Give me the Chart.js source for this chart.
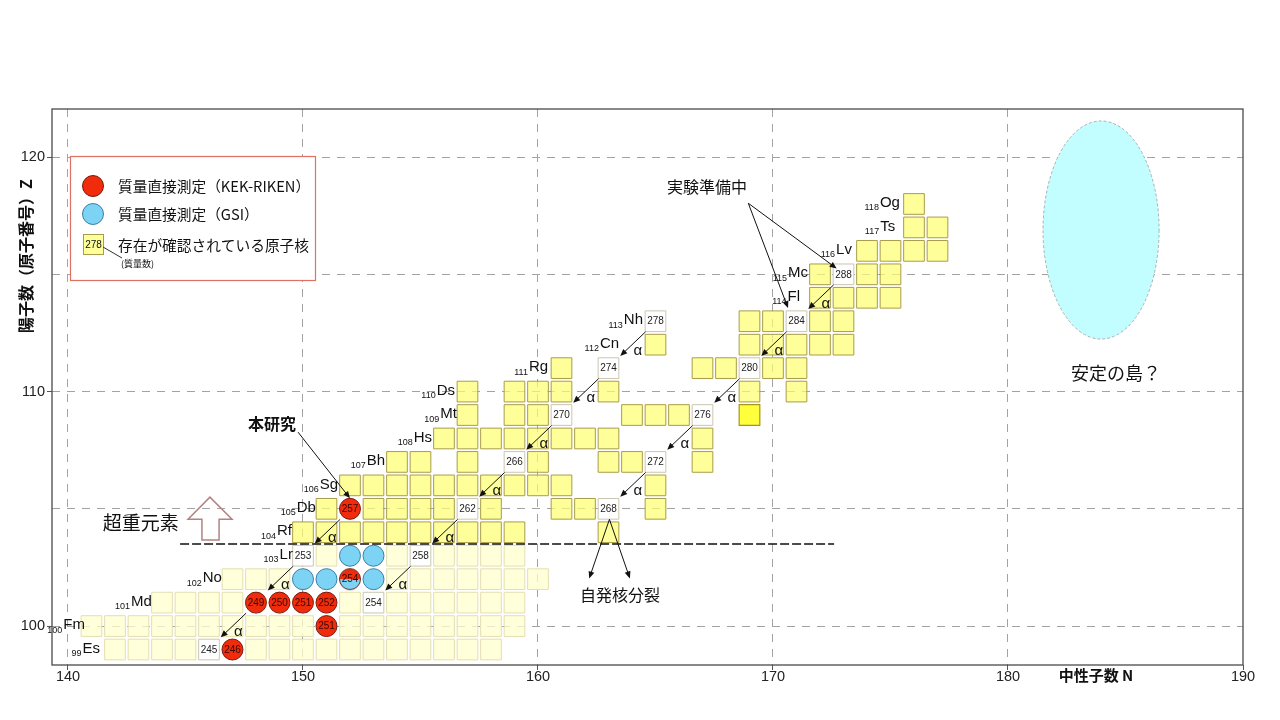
<!DOCTYPE html>
<html><head><meta charset="utf-8">
<script src="https://cdn.jsdelivr.net/npm/chart.js@4/dist/chart.umd.min.js"></script>
<style>html,body{margin:0;padding:0;background:#fff;}canvas{display:block;}</style>
</head><body>
<canvas id="c" width="1280" height="720"></canvas>
<script>
// ---------- axis ticks ----------
const xTicks = [140, 150, 160, 170, 180, 190];
const yTicks = [100, 105, 110, 115, 120];
const yTickLabels = ['100', '', '110', '', '120'];

// ---------- known nuclei: neutron numbers N per proton number Z ----------
// light (Z <= 103)
const esN = [142,143,144,145,148,149,150,151,152,153,154,155,156,157,158];
const fmN = [141,142,143,144,145,146,147,148,149,150,152,153,154,155,156,157,158,159];
const mdN = [144,145,146,147,152,154,155,156,157,158,159];
const noN = [147,148,149,154,155,156,157,158,159,160];
const lrN = [151,154,156,157,158,159];
// superheavy (Z >= 104)
const rfN = [150,151,152,153,154,155,156,157,158,159,163];
const dbN = [151,153,154,155,156,158,161,162,165];
const sgN = [152,153,154,155,156,157,158,159,160,161,165];
const bhN = [154,155,157,160,163,164,167];
const hsN = [156,157,158,159,160,161,162,163,167];
const mtN = [157,159,160,164,165,166];
const dsN = [157,159,160,161,163,169,171];
const rgN = [161,167,168,170,171];
const cnN = [165,169,170,171,172,173];
const nhN = [169,170,172,173];
const flN = [172,173,174,175];
const mcN = [172,174,175];
const lvN = [174,175,176,177];
const tsN = [176,177];
const ogN = [176];
const brightN = [169], brightZ = [109];

// labelled nuclei (mass number shown)
const boxA = [278,274,270,266,262,258,254, 288,284,280,276,272,268, 253,245];
const boxN = [165,163,161,159,157,155,153, 173,171,169,167,165,163, 150,146];
const boxZ = [113,111,109,107,105,103,101, 115,113,111,109,107,105, 103,99];

// direct mass measurements
const kekA = [246,251,249,250,251,252,257];
const kekN = [147,151,148,149,150,151,152];
const kekZ = [99,100,101,101,101,101,105];
const gsiN = [150,151,153,152,153];
const gsiZ = [102,102,102,103,103];
const bothA = [254], bothN = [152], bothZ = [102];

// alpha decays (from -> to: N-2, Z-2)
const alphaN = [165,163,161,159,157,155, 173,171,169,167,165, 152,150,148];
const alphaZ = [113,111,109,107,105,103, 115,113,111,109,107, 105,103,101];

// element labels
const elemZ   = [99,100,101,102,103,104,105,106,107,108,109,110,111,112,113,114,115,116,117,118];
const elemSym = ['Es','Fm','Md','No','Lr','Rf','Db','Sg','Bh','Hs','Mt','Ds','Rg','Cn','Nh','Fl','Mc','Lv','Ts','Og'];
const elemRight = [141.36,140.72,143.57,146.55,149.57,149.53,150.55,151.49,153.49,155.49,156.55,156.47,160.43,163.45,164.47,171.15,171.49,173.36,175.2,175.4];

const lightRows = [[99,esN],[100,fmN],[101,mdN],[102,noN],[103,lrN]];
const heavyRows = [[104,rfN],[105,dbN],[106,sgN],[107,bhN],[108,hsN],[109,mtN],[110,dsN],[111,rgN],[112,cnN],[113,nhN],[114,flN],[115,mcN],[116,lvN],[117,tsN],[118,ogN]];
const rowsToPts = rows => rows.flatMap(([z, ns]) => ns.map(n => ({x: n, y: z})));
const zip = (ns, zs) => ns.map((n, i) => ({x: n, y: zs[i]}));

const RED = '#f02c0c', BLUE = '#7dd3f3';
const FONT = "'Liberation Sans', Arial, sans-serif";
const JFONT = "'Noto Sans CJK JP', 'Liberation Sans', sans-serif";

function squareRadius(ctx) {
  const s = ctx.chart.scales.x;
  return Math.abs(s.getPixelForValue(0.88) - s.getPixelForValue(0)) / Math.SQRT2;
}
function halfCircle() {
  const c = document.createElement('canvas'); c.width = 24; c.height = 24;
  const g = c.getContext('2d');
  g.beginPath(); g.arc(12, 12, 10.5, 0, Math.PI); g.fillStyle = BLUE; g.fill();
  g.beginPath(); g.arc(12, 12, 10.5, Math.PI, 2 * Math.PI); g.fillStyle = RED; g.fill();
  g.beginPath(); g.arc(12, 12, 10.5, 0, 2 * Math.PI); g.lineWidth = 1; g.strokeStyle = '#6a2a20'; g.stroke();
  return c;
}

const datasets = [
  {data: rowsToPts(lightRows), pointStyle: 'rect', pointRadius: squareRadius,
   backgroundColor: 'rgba(255,255,204,0.75)', borderColor: '#e4deb0', borderWidth: 1, order: 6},
  {data: rowsToPts(heavyRows), pointStyle: 'rect', pointRadius: squareRadius,
   backgroundColor: 'rgba(255,255,109,0.7)', borderColor: '#a89c4c', borderWidth: 1, order: 5},
  {data: zip(brightN, brightZ), pointStyle: 'rect', pointRadius: squareRadius,
   backgroundColor: '#ffff3c', borderColor: '#a89420', borderWidth: 1.2, order: 4},
  {data: zip(boxN, boxZ), pointStyle: 'rect', pointRadius: squareRadius,
   backgroundColor: '#ffffff', borderColor: '#c9c6b0', borderWidth: 1, order: 3},
  {data: zip(kekN, kekZ), pointStyle: 'circle', pointRadius: 10.5,
   backgroundColor: RED, borderColor: '#7a1a0a', borderWidth: 1, order: 2},
  {data: zip(gsiN, gsiZ), pointStyle: 'circle', pointRadius: 10.5,
   backgroundColor: BLUE, borderColor: '#3b7fa5', borderWidth: 1, order: 2},
  {data: zip(bothN, bothZ), pointStyle: halfCircle(), pointRadius: 10.5, order: 1}
];

function arrow(ctx, x1, y1, x2, y2, head = 7, w = 3) {
  const a = Math.atan2(y2 - y1, x2 - x1);
  ctx.beginPath(); ctx.moveTo(x1, y1);
  ctx.lineTo(x2 - head * 0.8 * Math.cos(a), y2 - head * 0.8 * Math.sin(a)); ctx.stroke();
  ctx.beginPath(); ctx.moveTo(x2, y2);
  ctx.lineTo(x2 - head * Math.cos(a) + w * Math.sin(a), y2 - head * Math.sin(a) - w * Math.cos(a));
  ctx.lineTo(x2 - head * Math.cos(a) - w * Math.sin(a), y2 - head * Math.sin(a) + w * Math.cos(a));
  ctx.closePath(); ctx.fill();
}

const overlay = {
  id: 'overlay',
  afterDatasetsDraw(chart) {
    const {ctx, chartArea: ca, scales: {x, y}} = chart;
    const X = v => x.getPixelForValue(v), Y = v => y.getPixelForValue(v);
    ctx.save();
    ctx.textAlign = 'center'; ctx.textBaseline = 'middle';
    // mass numbers in boxes / circles
    ctx.font = '10px ' + FONT; ctx.fillStyle = '#222';
    boxA.forEach((a, i) => ctx.fillText(String(a), X(boxN[i]), Y(boxZ[i]) + 0.5));
    ctx.fillStyle = '#3a0800';
    kekA.forEach((a, i) => ctx.fillText(String(a), X(kekN[i]), Y(kekZ[i]) + 0.5));
    bothA.forEach((a, i) => ctx.fillText(String(a), X(bothN[i]), Y(bothZ[i]) + 0.5));

    // element labels
    ctx.fillStyle = '#111'; ctx.textAlign = 'right';
    elemSym.forEach((s, i) => {
      const r = X(elemRight[i]), cy = Y(elemZ[i]);
      ctx.font = '15px ' + FONT; ctx.fillText(s, r, cy - 1);
      const w = ctx.measureText(s).width;
      ctx.font = '9px ' + FONT; ctx.fillText(String(elemZ[i]), r - w - 1, cy + 4);
    });

    // alpha decay arrows
    ctx.strokeStyle = '#111'; ctx.fillStyle = '#111'; ctx.lineWidth = 1;
    ctx.textAlign = 'center';
    alphaN.forEach((n, i) => {
      const z = alphaZ[i], nt = n - 2, zt = z - 2;
      arrow(ctx, X(n - 0.42), Y(z - 0.45), X(nt + 0.5), Y(zt + 0.52));
      ctx.font = '15px ' + FONT;
      ctx.fillText('α', X(nt + 1.25), Y(zt + 0.75));
    });

    // 本研究
    ctx.font = 'bold 16px ' + JFONT; ctx.fillText('本研究', X(148.68), Y(108.61));
    arrow(ctx, X(149.79), Y(108.27), X(152.0), Y(105.45));
    // 実験準備中
    ctx.font = '16px ' + JFONT; ctx.fillText('実験準備中', X(167.19), Y(118.72));
    arrow(ctx, X(168.95), Y(118.03), X(170.64), Y(113.56));
    arrow(ctx, X(168.95), Y(118.03), X(172.71), Y(115.25));
    // 自発核分裂
    arrow(ctx, X(163.04), Y(104.55), X(162.18), Y(102.03));
    arrow(ctx, X(163.04), Y(104.55), X(163.91), Y(102.03));
    ctx.fillText('自発核分裂', X(163.49), Y(101.32));

    // superheavy boundary
    ctx.save(); ctx.setLineDash([9, 3]); ctx.lineWidth = 1.4; ctx.strokeStyle = '#111';
    ctx.beginPath(); ctx.moveTo(X(144.77), Y(103.5)); ctx.lineTo(X(172.6), Y(103.5)); ctx.stroke();
    ctx.restore();
    // hollow up arrow
    ctx.save(); ctx.strokeStyle = '#b38383'; ctx.lineWidth = 1.5; ctx.beginPath();
    ctx.moveTo(X(145.70), Y(103.67)); ctx.lineTo(X(145.70), Y(104.56)); ctx.lineTo(X(145.11), Y(104.56));
    ctx.lineTo(X(146.04), Y(105.50)); ctx.lineTo(X(146.98), Y(104.56)); ctx.lineTo(X(146.43), Y(104.56));
    ctx.lineTo(X(146.43), Y(103.67)); ctx.closePath(); ctx.stroke(); ctx.restore();
    ctx.font = '19px ' + JFONT; ctx.fillStyle = '#111';
    ctx.fillText('超重元素', X(143.1), Y(104.4));

    // island of stability
    ctx.save(); ctx.beginPath();
    ctx.ellipse(X(183.96), Y(116.89), X(183.96 + 2.47) - X(183.96), Y(116.89) - Y(116.89 + 4.65), 0, 0, 2 * Math.PI);
    ctx.fillStyle = '#c2feff'; ctx.fill();
    ctx.setLineDash([3, 2]); ctx.strokeStyle = '#a8b0b0'; ctx.lineWidth = 1; ctx.stroke(); ctx.restore();
    ctx.font = '18px ' + JFONT; ctx.fillStyle = '#111';
    ctx.fillText('安定の島？', X(184.6), Y(110.79));

    // legend box
    ctx.fillStyle = '#fff'; ctx.fillRect(70, 156, 245, 124);
    ctx.strokeStyle = '#e07060'; ctx.lineWidth = 1.2; ctx.strokeRect(70.5, 156.5, 245, 124);
    ctx.lineWidth = 1;
    ctx.beginPath(); ctx.arc(93, 186, 10.5, 0, 2 * Math.PI); ctx.fillStyle = RED; ctx.fill(); ctx.strokeStyle = '#7a1a0a'; ctx.stroke();
    ctx.beginPath(); ctx.arc(93, 214, 10.5, 0, 2 * Math.PI); ctx.fillStyle = BLUE; ctx.fill(); ctx.strokeStyle = '#3b7fa5'; ctx.stroke();
    ctx.fillStyle = '#ffff99'; ctx.fillRect(83, 234, 21, 21); ctx.strokeStyle = '#a89c4c'; ctx.strokeRect(83.5, 234.5, 20, 20);
    ctx.fillStyle = '#111'; ctx.textAlign = 'left';
    ctx.font = '14.7px ' + JFONT;
    ctx.fillText('質量直接測定（KEK-RIKEN）', 118, 186);
    ctx.fillText('質量直接測定（GSI）', 118, 214);
    ctx.fillText('存在が確認されている原子核', 118, 245);
    ctx.font = '9px ' + JFONT; ctx.fillText('(質量数)', 121, 264);
    ctx.textAlign = 'center'; ctx.font = '10px ' + FONT; ctx.fillText('278', 93.5, 245);
    ctx.strokeStyle = '#333'; ctx.beginPath(); ctx.moveTo(103, 247); ctx.lineTo(122, 258); ctx.stroke();

    // frame
    ctx.strokeStyle = '#4a4a4a'; ctx.lineWidth = 1.3;
    ctx.strokeRect(ca.left, ca.top, ca.right - ca.left, ca.bottom - ca.top);

    // axis titles
    ctx.fillStyle = '#111'; ctx.font = 'bold 15px ' + JFONT;
    ctx.fillText('中性子数 N', 1096, 675);
    ctx.save(); ctx.translate(26, 256); ctx.rotate(-Math.PI / 2);
    ctx.font = 'bold 16px ' + JFONT; ctx.fillText('陽子数（原子番号）Z', 0, 0); ctx.restore();
    ctx.restore();
  }
};

new Chart(document.getElementById('c'), {
  type: 'scatter',
  data: {datasets},
  options: {
    responsive: false, animation: false, events: [],
    layout: {padding: {top: 109, right: 37, left: 0, bottom: 0}},
    plugins: {legend: {display: false}, tooltip: {enabled: false}},
    scales: {
      x: {
        type: 'linear', min: 139.32, max: 190,
        afterBuildTicks: s => { s.ticks = xTicks.map(v => ({value: v})); },
        afterFit: s => { s.height = 55; },
        grid: {color: ctx => (ctx.tick && ctx.tick.value === 190) ? 'transparent' : '#a3a3a3', lineWidth: 1,
               tickColor: '#555', tickLength: 5},
        border: {display: false, dash: [8, 7]},
        ticks: {font: {size: 14.5, family: FONT}, color: '#222', padding: -2, maxRotation: 0,
                callback: v => String(v)}
      },
      y: {
        type: 'linear', min: 98.34, max: 122.05,
        afterBuildTicks: s => { s.ticks = yTicks.map(v => ({value: v})); },
        afterFit: s => { s.width = 52; },
        grid: {color: '#a3a3a3', lineWidth: 1,
               tickColor: ctx => (ctx.tick && ctx.tick.value % 10 === 0) ? '#555' : 'transparent', tickLength: 5},
        border: {display: false, dash: [8, 7]},
        ticks: {font: {size: 14.5, family: FONT}, color: '#222', padding: 2,
                callback: (v, i) => yTickLabels[i]}
      }
    }
  },
  plugins: [overlay]
});
</script>
</body></html>
